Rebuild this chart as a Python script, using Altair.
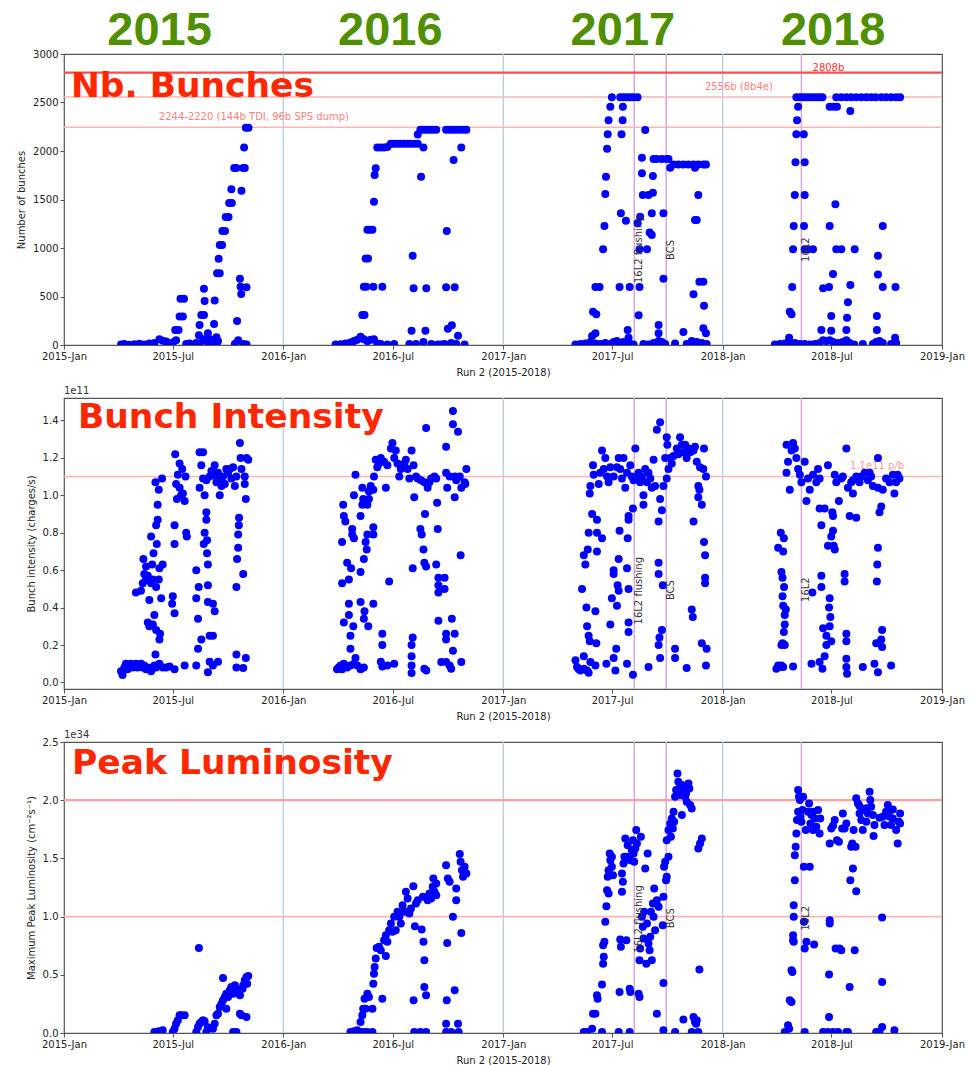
import altair as alt
import pandas as pd

# ---------------- data: (decimal year, value) ----------------
NB_2015 = [(2015.260,5),(2015.275,10),(2015.298,3),(2015.321,8),(2015.344,12),(2015.366,5),(2015.389,15),(2015.412,20),(2015.435,58),(2015.450,45),(2015.466,35),(2015.481,10),(2015.496,25),
(2015.507,155),(2015.522,155),(2015.511,50),(2015.527,295),(2015.542,295),(2015.531,478),(2015.547,478),(2015.557,10),(2015.573,15),
(2015.603,20),(2015.615,100),(2015.618,206),(2015.626,310),(2015.638,310),(2015.638,580),(2015.641,454),(2015.649,40),(2015.656,120),(2015.664,60),(2015.672,20),(2015.684,217),(2015.687,458),(2015.695,80),(2015.702,40),
(2015.698,740),(2015.710,740),(2015.705,888),(2015.710,1031),(2015.721,1031),(2015.722,1175),(2015.734,1175),(2015.737,1320),(2015.750,1320),(2015.753,1464),(2015.765,1464),(2015.763,1605),(2015.776,1825),(2015.786,1825),(2015.789,248),(2015.779,10),(2015.794,50),
(2015.802,684),(2015.805,600),(2015.808,526),(2015.809,1590),(2015.817,1825),(2015.824,1825),(2015.821,2037),(2015.829,2240),(2015.841,2240),(2015.832,595),(2015.817,10),(2015.832,5),(2015.695,10),(2015.618,10),(2015.634,60)]

NB_2016 = [(2016.237,5),(2016.260,8),(2016.282,15),(2016.305,25),(2016.321,40),(2016.336,55),(2016.351,85),(2016.366,60),(2016.382,40),(2016.397,55),(2016.412,60),(2016.427,15),(2016.443,10),(2016.473,5),(2016.504,10),
(2016.359,310),(2016.369,310),(2016.366,600),(2016.377,600),(2016.374,893),(2016.385,893),(2016.382,1187),(2016.392,1187),(2016.405,1187),(2016.409,600),(2016.412,1476),(2016.415,1753),(2016.420,1822),(2016.427,2037),(2016.443,2037),(2016.450,600),(2016.458,2037),(2016.473,2040),
(2016.489,2075),(2016.504,2075),(2016.519,2075),(2016.534,2075),(2016.550,2075),(2016.565,2075),(2016.580,2075),(2016.595,2075),(2016.611,2075),
(2016.588,921),(2016.592,584),(2016.583,148),(2016.573,10),(2016.603,10),(2016.611,2170),(2016.623,2220),(2016.634,2220),(2016.649,2220),(2016.664,2220),(2016.679,2220),(2016.695,2220),(2016.626,1735),(2016.637,2037),(2016.650,584),(2016.646,148),(2016.637,30),(2016.673,10),(2016.702,5),
(2016.740,2220),(2016.756,2220),(2016.771,2220),(2016.786,2220),(2016.802,2220),(2016.817,2220),(2016.832,2220),(2016.743,1175),(2016.740,595),(2016.779,595),(2016.774,1908),(2016.809,2037),(2016.748,168),(2016.766,203),(2016.794,96),(2016.733,10),(2016.763,20),(2016.786,10),(2016.824,5),(2016.718,5)]

NB_2017 = [(2017.329,5),(2017.352,10),(2017.374,15),(2017.397,30),(2017.420,15),(2017.442,10),(2017.465,20),(2017.488,10),(2017.503,30),(2017.518,40),(2017.533,20),(2017.548,30),(2017.564,20),(2017.579,10),(2017.594,5),
(2017.405,93),(2017.420,120),(2017.409,344),(2017.424,316),(2017.420,598),(2017.439,598),(2017.455,986),(2017.461,1227),(2017.465,1556),(2017.468,1735),(2017.473,2024),(2017.476,2172),(2017.480,2316),(2017.488,2457),(2017.495,2553),
(2017.530,598),(2017.536,1357),(2017.539,2172),(2017.544,2316),(2017.545,2457),(2017.533,2553),(2017.548,2553),(2017.564,2553),(2017.579,2553),(2017.594,2553),(2017.612,2553),
(2017.559,1282),(2017.576,598),(2017.567,155),(2017.571,76),(2017.617,306),(2017.621,598),(2017.621,986),(2017.624,1323),(2017.612,1254),(2017.632,1770),(2017.632,1931),(2017.636,1546),(2017.647,2216),(2017.655,986),(2017.662,1546),(2017.667,1161),(2017.677,1134),(2017.677,1357),(2017.682,1742),(2017.682,1570),
(2017.685,1917),(2017.700,1917),(2017.723,1917),(2017.708,206),(2017.708,120),(2017.730,1357),(2017.730,684),(2017.745,1917),(2017.753,1917),(2017.761,1828),(2017.776,1862),(2017.798,1862),(2017.821,1862),(2017.844,1862),(2017.867,1862),(2017.889,1862),(2017.912,1862),(2017.924,1862),(2017.874,1828),
(2017.821,134),(2017.867,522),(2017.874,1288),(2017.882,1288),(2017.889,1546),(2017.894,653),(2017.912,653),(2017.915,405),(2017.912,172),(2017.924,120),
(2017.639,10),(2017.662,5),(2017.685,20),(2017.708,40),(2017.723,30),(2017.738,10),(2017.783,15),(2017.836,10),(2017.859,40),(2017.882,30),(2017.905,20),(2017.927,10)]

NB_2018 = [(2018.238,5),(2018.261,10),(2018.283,15),(2018.306,30),(2018.329,20),(2018.352,10),(2018.374,10),(2018.397,5),(2018.420,10),(2018.442,20),(2018.458,50),(2018.473,40),(2018.488,50),(2018.503,30),(2018.526,20),(2018.548,30),(2018.564,50),(2018.579,20),(2018.600,5),(2018.639,10),(2018.685,10),(2018.700,30),(2018.715,40),(2018.730,20),(2018.768,10),(2018.791,20),
(2018.303,76),(2018.306,344),(2018.314,316),(2018.317,598),(2018.321,986),(2018.324,1227),(2018.329,1546),(2018.332,1883),(2018.336,2172),(2018.339,2316),(2018.344,2457),
(2018.336,2553),(2018.352,2553),(2018.367,2553),(2018.382,2553),(2018.397,2553),(2018.412,2553),(2018.427,2553),(2018.442,2553),(2018.455,2553),
(2018.370,2172),(2018.374,1883),(2018.374,1546),(2018.371,1227),(2018.374,986),(2018.389,986),(2018.412,986),(2018.450,155),(2018.458,584),(2018.485,598),(2018.488,1227),(2018.495,299),(2018.495,148),(2018.503,732),(2018.514,1450),(2018.518,986),(2018.541,986),
(2018.488,2457),(2018.506,2457),(2018.521,2457),(2018.518,2553),(2018.541,2553),(2018.564,2553),(2018.586,2553),(2018.609,2553),(2018.632,2553),(2018.655,2553),(2018.677,2553),(2018.697,2553),(2018.582,2412),
(2018.564,155),(2018.567,282),(2018.571,440),(2018.582,618),(2018.602,986),(2018.703,299),(2018.708,728),(2018.708,921),(2018.703,155),(2018.730,1227),(2018.730,598),(2018.788,598),(2018.786,76),
(2018.723,2553),(2018.745,2553),(2018.768,2553),(2018.791,2553),(2018.809,2553)]

# bunch intensity in units of 1e11
INT_2015 = [(2015.260,.06),(2015.267,.04),(2015.275,.08),(2015.282,.10),(2015.290,.07),(2015.298,.09),(2015.305,.10),(2015.313,.08),(2015.321,.09),(2015.328,.10),(2015.336,.08),(2015.344,.09),(2015.351,.10),(2015.359,.08),(2015.366,.09),(2015.374,.07),(2015.382,.08),(2015.389,.07),(2015.397,.06),(2015.405,.08),(2015.412,.09),(2015.420,.08),(2015.427,.09),(2015.435,.10),(2015.450,.08),(2015.466,.08),
(2015.328,.48),(2015.351,.49),(2015.362,.66),(2015.374,.55),(2015.382,.32),(2015.389,.30),(2015.397,.78),(2015.402,.63),(2015.405,.55),(2015.412,.36),(2015.417,1.07),(2015.420,.84),(2015.423,.74),(2015.427,.95),(2015.427,.87),(2015.432,1.03),(2015.435,.61),(2015.438,.26),(2015.443,.45),(2015.447,1.09),(2015.450,.63),(2015.432,.55),(2015.420,.51),(2015.408,.69),(2015.417,.15),(2015.435,.23),(2015.389,.44),(2015.382,.57),(2015.397,.53),(2015.374,.62),(2015.359,.53),(2015.366,.58),(2015.405,.31),(2015.420,.28),
(2015.481,.085),(2015.504,.07),(2015.496,.46),(2015.493,.42),(2015.504,.37),(2015.504,.74),(2015.504,.84),(2015.507,1.22),(2015.511,1.06),(2015.515,.98),(2015.519,1.11),(2015.527,1.17),(2015.539,1.14),(2015.542,1.01),(2015.550,.97),(2015.554,1.10),(2015.557,.80),(2015.560,.78),(2015.534,1.00),(2015.550,.09),(2015.527,1.04),
(2015.603,.09),(2015.603,.60),(2015.603,.45),(2015.611,.34),(2015.611,.18),(2015.614,.51),(2015.618,1.04),(2015.618,1.23),(2015.626,1.16),(2015.634,1.09),(2015.634,1.23),(2015.626,.23),(2015.637,.74),(2015.641,.80),(2015.641,1.00),(2015.649,.91),(2015.649,.87),(2015.652,.69),(2015.652,.76),(2015.656,.63),(2015.656,.52),(2015.656,.43),(2015.664,.25),(2015.656,.055),(2015.664,.11),(2015.679,.42),(2015.679,.25),(2015.687,1.16),(2015.695,1.07),(2015.702,.11),(2015.710,1.00),(2015.718,1.05),(2015.679,.09),(2015.687,.38),
(2015.664,1.10),(2015.679,1.12),(2015.695,1.10),(2015.710,1.08),(2015.725,1.10),(2015.740,1.14),(2015.756,1.14),(2015.771,1.15),(2015.779,1.05),(2015.786,1.10),(2015.649,1.08),(2015.672,1.13),(2015.702,1.12),(2015.733,1.06),(2015.748,1.12),(2015.763,1.09),
(2015.786,.51),(2015.789,.66),(2015.794,.72),(2015.794,.79),(2015.797,.84),(2015.798,.88),(2015.802,1.28),(2015.805,1.20),(2015.809,1.14),(2015.817,.58),(2015.824,1.10),(2015.824,1.06),(2015.829,.98),(2015.832,1.20),(2015.840,1.19),(2015.786,.08),(2015.817,.077),(2015.786,.15),(2015.829,.13)]

INT_2016 = [(2016.244,.07),(2016.252,.08),(2016.260,.09),(2016.267,.07),(2016.275,.10),(2016.282,.09),(2016.290,.08),(2016.305,.09),(2016.321,.10),(2016.336,.09),(2016.351,.07),
(2016.267,.75),(2016.272,.95),(2016.275,.89),(2016.282,.86),(2016.267,.53),(2016.275,.32),(2016.290,.64),(2016.298,.55),(2016.298,.42),(2016.298,.36),(2016.305,.25),(2016.305,.18),(2016.308,.61),(2016.313,.79),(2016.313,.82),(2016.321,.77),(2016.328,1.11),(2016.321,1.00),(2016.328,.13),(2016.318,.30),
(2016.351,.59),(2016.351,.89),(2016.351,.43),(2016.359,.95),(2016.359,1.04),(2016.363,.98),(2016.366,.66),(2016.366,.34),(2016.369,.38),(2016.374,.75),(2016.379,.71),(2016.382,.95),(2016.382,.79),(2016.386,.30),(2016.389,.98),(2016.366,.08),
(2016.409,.42),(2016.409,.79),(2016.409,.83),(2016.409,1.03),(2016.412,1.10),(2016.420,1.19),(2016.427,1.15),(2016.443,1.20),(2016.450,.26),(2016.450,.20),(2016.443,.11),(2016.450,.085),(2016.466,1.04),(2016.473,.09),(2016.481,.54),(2016.489,1.25),(2016.496,1.28),(2016.504,1.20),(2016.511,1.24),(2016.519,1.17),(2016.527,1.10),(2016.504,.10),(2016.458,1.18),(2016.473,1.16),(2016.435,1.17),(2016.397,1.05),(2016.389,1.02),
(2016.534,1.14),(2016.550,1.17),(2016.565,1.14),(2016.573,1.09),(2016.583,1.24),(2016.592,1.16),(2016.595,.99),(2016.588,.61),(2016.583,.20),(2016.583,.14),(2016.588,.24),(2016.583,.09),(2016.583,.05),(2016.611,1.09),(2016.623,.82),(2016.629,.79),(2016.637,.71),(2016.641,.64),(2016.644,.90),(2016.649,1.36),(2016.649,.62),(2016.641,.073),(2016.650,.064),(2016.641,1.07),(2016.656,1.04),(2016.672,1.09),(2016.687,1.10),(2016.695,1.09),(2016.695,.63),(2016.699,.96),(2016.702,.82),(2016.705,.56),(2016.705,.52),(2016.705,.48),(2016.705,.33),(2016.718,.109),
(2016.740,1.26),(2016.740,1.12),(2016.745,1.04),(2016.740,.26),(2016.740,.23),(2016.733,.56),(2016.733,.50),(2016.740,.109),(2016.756,.091),(2016.763,.073),(2016.766,.34),(2016.771,1.45),(2016.771,1.38),(2016.779,1.10),(2016.779,.99),(2016.779,.26),(2016.771,.17),(2016.794,1.34),(2016.802,1.10),(2016.809,1.04),(2016.806,.68),(2016.809,.109),(2016.824,1.07),(2016.832,1.14),(2016.827,1.06),(2016.557,1.19),(2016.603,1.10),(2016.626,1.08),(2016.664,1.07),(2016.756,1.10),(2016.786,1.08)]

INT_2017 = [(2017.329,.118),(2017.336,.082),(2017.352,.064),(2017.367,.073),(2017.382,.064),(2017.389,.052),(2017.397,.109),(2017.420,.091),(2017.367,.14),(2017.344,.07),
(2017.359,.50),(2017.367,.68),(2017.374,.63),(2017.379,.40),(2017.382,.30),(2017.385,.71),(2017.389,.80),(2017.389,.25),(2017.394,.22),(2017.394,1.01),(2017.397,1.05),(2017.405,.90),(2017.409,1.16),(2017.412,1.11),(2017.420,.38),(2017.424,.21),(2017.427,.70),(2017.427,.80),(2017.427,.87),(2017.435,1.06),(2017.450,1.24),(2017.450,.77),(2017.458,1.14),(2017.465,1.20),(2017.470,.10),(2017.473,1.10),(2017.480,1.07),(2017.488,.31),(2017.495,.45),(2017.503,.60),(2017.503,.58),(2017.503,.13),(2017.511,.064),(2017.515,.18),(2017.518,.41),(2017.521,.52),(2017.526,.66),(2017.526,.49),(2017.530,.81),(2017.526,1.20),(2017.533,1.14),(2017.541,1.09),(2017.548,1.20),(2017.556,1.04),(2017.564,.61),(2017.567,.77),(2017.571,.87),(2017.571,.50),(2017.571,.32),(2017.571,.27),(2017.564,.10),(2017.571,.89),(2017.579,1.16),(2017.586,1.10),(2017.591,.93),(2017.591,.041),(2017.602,1.25),(2017.609,1.09),(2017.617,1.12),(2017.624,1.07),(2017.639,1.00),(2017.639,.95),(2017.647,1.14),(2017.655,1.07),(2017.662,.082),(2017.670,1.09),(2017.677,1.04),(2017.685,1.19),(2017.692,1.05),(2017.700,1.35),(2017.708,.86),(2017.708,.20),(2017.712,.24),(2017.708,.64),(2017.715,1.39),(2017.715,.98),(2017.715,.13),(2017.708,.58),(2017.723,.92),(2017.723,.28),(2017.727,.52),(2017.730,1.05),(2017.738,1.20),(2017.745,1.31),(2017.748,1.27),(2017.745,1.09),(2017.753,1.14),(2017.761,1.20),(2017.776,1.21),(2017.783,.18),(2017.783,.13),(2017.791,1.25),(2017.806,1.31),(2017.814,1.27),(2017.821,1.23),(2017.829,1.27),(2017.836,.077),(2017.844,1.25),(2017.852,1.23),(2017.859,.39),(2017.864,.35),(2017.867,.86),(2017.874,1.26),(2017.882,1.18),(2017.889,1.05),(2017.889,.99),(2017.894,1.03),(2017.905,.95),(2017.905,.21),(2017.912,1.14),(2017.915,1.25),(2017.915,.75),(2017.920,.68),(2017.920,.56),(2017.920,.53),(2017.924,.091),(2017.927,.18),(2017.924,1.10),
(2017.442,1.12),(2017.488,1.15),(2017.503,1.10),(2017.518,1.15),(2017.564,1.12),(2017.594,1.08),(2017.632,1.10),(2017.662,1.12),(2017.768,1.17),(2017.798,1.22),(2017.836,1.20),(2017.867,1.24),(2017.897,1.15)]

INT_2018 = [(2018.245,.073),(2018.253,.091),(2018.261,.082),(2018.268,.091),(2018.276,.082),(2018.321,.085),(2018.253,.72),(2018.265,.80),(2018.268,.59),(2018.273,.56),(2018.276,.70),(2018.279,.77),(2018.280,.51),(2018.273,.46),(2018.276,.41),(2018.283,.36),(2018.283,.31),(2018.279,.27),(2018.273,.21),(2018.283,.20),(2018.268,.20),(2018.288,.39),
(2018.291,1.27),(2018.298,1.18),(2018.291,1.12),(2018.306,1.03),(2018.314,1.24),(2018.321,1.28),(2018.329,1.25),(2018.336,1.20),(2018.344,1.14),(2018.352,1.11),(2018.359,1.07),(2018.374,1.18),(2018.382,.97),(2018.389,1.09),(2018.397,1.03),(2018.405,.10),(2018.409,.48),(2018.412,1.11),(2018.427,1.07),(2018.435,1.14),(2018.442,1.09),(2018.442,.93),(2018.450,.84),(2018.450,.57),(2018.450,.51),(2018.442,.109),(2018.455,.073),(2018.458,.29),(2018.465,.93),(2018.465,.14),(2018.473,.25),(2018.473,.20),(2018.480,1.16),(2018.480,.73),(2018.485,.40),(2018.488,.45),(2018.491,.35),(2018.495,.78),(2018.500,.91),(2018.503,.89),(2018.503,.81),(2018.506,.73),(2018.511,.71),(2018.488,.30),(2018.495,.22),(2018.511,1.11),(2018.518,1.07),(2018.530,.97),(2018.541,1.09),(2018.556,.58),(2018.556,.54),(2018.564,1.25),(2018.564,.26),(2018.564,.22),(2018.564,.127),(2018.564,.082),(2018.567,.046),(2018.571,1.04),(2018.579,.89),(2018.586,1.07),(2018.594,1.01),(2018.609,.88),(2018.609,1.10),(2018.624,1.07),(2018.639,.082),(2018.648,1.12),(2018.662,1.08),(2018.677,1.10),(2018.692,.10),(2018.700,.21),(2018.703,.54),(2018.705,.63),(2018.708,.72),(2018.708,1.20),(2018.708,1.04),(2018.715,.91),(2018.723,.94),(2018.723,.23),(2018.727,.19),(2018.727,.28),(2018.708,.055),(2018.730,1.03),(2018.745,1.09),(2018.761,1.07),(2018.768,.091),(2018.776,1.11),(2018.783,1.01),(2018.791,1.07),(2018.798,1.11),(2018.806,1.09),
(2018.548,1.10),(2018.594,1.08),(2018.632,1.10),(2018.670,1.12),(2018.685,1.05)]

# peak luminosity in units of 1e34
LUM_2015 = [(2015.412,.009),(2015.432,.014),(2015.450,.023),(2015.496,.009),(2015.504,.037),(2015.511,.080),(2015.519,.109),(2015.527,.152),(2015.534,.152),(2015.550,.152),(2015.603,.009),(2015.611,.052),(2015.615,.731),(2015.618,.080),(2015.626,.095),(2015.634,.109),(2015.641,.100),(2015.649,.009),(2015.679,.037),(2015.687,.080),(2015.695,.152),(2015.702,.166),(2015.710,.224),(2015.718,.252),(2015.725,.473),(2015.725,.281),(2015.733,.310),(2015.740,.209),(2015.740,.338),(2015.748,.310),(2015.756,.367),(2015.763,.396),(2015.771,.338),(2015.779,.410),(2015.786,.009),(2015.794,.367),(2015.802,.324),(2015.802,.166),(2015.809,.152),(2015.814,.381),(2015.817,.410),(2015.824,.453),(2015.832,.138),(2015.832,.482),(2015.840,.490),(2015.835,.424),(2015.656,.05),(2015.771,.009)]

LUM_2016 = [(2016.305,.009),(2016.321,.014),(2016.336,.023),(2016.351,.009),(2016.366,.009),(2016.382,.009),(2016.405,.009),(2016.351,.095),(2016.359,.152),(2016.363,.209),(2016.369,.295),(2016.374,.209),(2016.382,.338),(2016.389,.310),(2016.405,.209),(2016.409,.424),(2016.412,.510),(2016.415,.568),(2016.420,.639),(2016.424,.731),(2016.435,.740),(2016.443,.711),(2016.450,.295),(2016.458,.797),(2016.466,.662),(2016.466,.840),(2016.473,.783),(2016.481,.883),(2016.489,.940),(2016.496,.869),(2016.504,.998),(2016.511,.883),(2016.519,1.041),(2016.527,.998),(2016.534,.940),(2016.542,1.098),(2016.550,1.041),(2016.557,1.213),(2016.565,1.155),(2016.573,1.026),(2016.580,1.069),(2016.591,1.261),(2016.592,.281),(2016.595,.009),(2016.598,.917),(2016.603,1.112),(2016.611,1.141),(2016.623,.009),(2016.629,.889),(2016.634,1.170),(2016.637,.783),(2016.641,.625),(2016.641,.396),(2016.649,.324),(2016.649,.009),(2016.656,1.141),(2016.664,1.198),(2016.672,1.155),(2016.679,1.256),(2016.682,1.327),(2016.687,1.213),(2016.695,1.184),(2016.695,1.284),(2016.740,1.442),(2016.745,.774),(2016.743,.281),(2016.740,.080),(2016.740,.009),(2016.748,1.327),(2016.756,1.299),(2016.771,.998),(2016.779,.367),(2016.786,1.241),(2016.786,1.141),(2016.794,.080),(2016.802,1.537),(2016.806,1.471),(2016.809,.860),(2016.812,1.399),(2016.817,1.342),(2016.824,1.428),(2016.832,1.370),(2016.763,.009),(2016.797,.009)]

LUM_2017 = [(2017.367,.009),(2017.382,.009),(2017.405,.037),(2017.409,.166),(2017.420,.166),(2017.427,.324),(2017.430,.295),(2017.450,.416),(2017.450,.009),(2017.455,.596),(2017.458,.654),(2017.455,.754),(2017.461,.783),(2017.465,.955),(2017.470,1.089),(2017.473,1.227),(2017.480,1.198),(2017.476,1.342),(2017.480,1.399),(2017.485,1.542),(2017.488,1.485),(2017.495,1.514),(2017.495,1.428),(2017.500,1.356),(2017.526,.009),(2017.530,.353),(2017.533,.803),(2017.536,.740),(2017.541,1.213),(2017.541,1.370),(2017.545,1.299),(2017.548,1.456),(2017.552,1.514),(2017.556,1.671),(2017.561,.797),(2017.564,1.514),(2017.567,1.614),(2017.576,.381),(2017.579,.353),(2017.576,.009),(2017.579,1.485),(2017.586,1.571),(2017.591,1.657),(2017.594,1.542),(2017.597,1.471),(2017.602,1.585),(2017.606,1.743),(2017.609,1.628),(2017.617,.338),(2017.621,.625),(2017.621,.310),(2017.624,.725),(2017.627,1.686),(2017.632,.998),(2017.636,.912),(2017.639,.811),(2017.642,1.041),(2017.647,1.413),(2017.652,.596),(2017.655,.940),(2017.658,1.542),(2017.662,.768),(2017.667,.711),(2017.670,.826),(2017.673,1.041),(2017.677,.625),(2017.682,1.112),(2017.685,.998),(2017.688,1.241),(2017.692,.883),(2017.700,.166),(2017.700,1.141),(2017.708,1.084),(2017.727,.926),(2017.730,.430),(2017.730,.023),(2017.730,1.170),(2017.733,1.428),(2017.738,1.471),(2017.742,1.313),(2017.745,1.342),(2017.745,1.657),(2017.753,1.514),(2017.753,1.743),(2017.761,1.800),(2017.764,1.686),(2017.768,1.843),(2017.773,1.757),(2017.776,1.901),(2017.779,1.815),(2017.783,.009),(2017.783,2.030),(2017.788,2.087),(2017.794,2.230),(2017.798,2.159),(2017.803,2.101),(2017.806,2.044),(2017.814,1.872),(2017.814,2.130),(2017.821,2.087),(2017.821,.115),(2017.829,2.030),(2017.833,2.058),(2017.836,1.987),(2017.844,2.144),(2017.848,2.101),(2017.852,1.958),(2017.859,1.929),(2017.867,.138),(2017.874,.095),(2017.879,.080),(2017.882,.109),(2017.859,.009),(2017.889,1.585),(2017.897,1.628),(2017.905,1.671),(2017.894,.545),(2017.889,.009)]

LUM_2018 = [(2018.283,.009),(2018.298,.066),(2018.303,.037),(2018.306,.281),(2018.314,.267),(2018.314,.539),(2018.318,.525),(2018.321,.840),(2018.321,.797),(2018.324,.783),(2018.324,.998),(2018.324,1.098),(2018.329,1.313),(2018.329,1.528),(2018.333,1.600),(2018.336,1.714),(2018.339,1.829),(2018.344,1.901),(2018.344,2.087),(2018.348,2.030),(2018.352,2.001),(2018.355,1.858),(2018.359,1.815),(2018.364,1.915),(2018.367,2.030),(2018.370,1.428),(2018.371,.955),(2018.374,.725),(2018.374,.009),(2018.379,1.743),(2018.382,.783),(2018.389,1.901),(2018.394,1.972),(2018.397,1.428),(2018.400,1.800),(2018.405,1.872),(2018.412,1.743),(2018.417,.760),(2018.420,1.843),(2018.427,1.772),(2018.435,1.915),(2018.442,1.714),(2018.445,1.843),(2018.458,.009),(2018.480,.009),(2018.485,.138),(2018.485,.502),(2018.488,.969),(2018.488,.940),(2018.488,1.628),(2018.495,1.757),(2018.503,.009),(2018.511,1.829),(2018.515,.725),(2018.521,1.657),(2018.526,.009),(2018.530,1.643),(2018.533,.725),(2018.541,.711),(2018.545,1.757),(2018.548,1.886),(2018.556,1.757),(2018.564,.009),(2018.571,.009),(2018.579,.396),(2018.582,1.313),(2018.586,1.600),(2018.591,1.628),(2018.594,1.413),(2018.597,1.743),(2018.602,.711),(2018.606,1.600),(2018.609,1.218),(2018.609,2.016),(2018.617,1.972),(2018.624,1.886),(2018.632,1.829),(2018.639,1.743),(2018.648,1.915),(2018.655,1.815),(2018.662,1.886),(2018.670,2.073),(2018.673,2.001),(2018.677,1.944),(2018.685,1.872),(2018.688,1.692),(2018.692,1.786),(2018.700,.009),(2018.715,.009),(2018.727,.439),(2018.727,.992),(2018.727,.052),(2018.730,1.858),(2018.738,1.786),(2018.745,1.901),(2018.753,1.958),(2018.761,1.858),(2018.768,1.786),(2018.776,1.843),(2018.783,.023),(2018.791,1.743),(2018.798,1.628),(2018.803,1.815),(2018.809,1.886),
(2018.412,1.90),(2018.503,1.78),(2018.564,1.80),(2018.624,1.95),(2018.655,1.93),(2018.715,1.85),(2018.776,1.92),(2018.809,1.80)]

YEAR_BOUNDS = ["2016-01-01T00:00:00", "2017-01-01T00:00:00", "2018-01-01T00:00:00"]
EVENT_DATES = ["2017-08-07T00:00:00", "2017-09-29T00:00:00", "2018-05-12T00:00:00"]
EVENT_NAMES = ["16L2 flushing", "BCS", "16L2"]
YEAR_LABELS = ["2015", "2016", "2017", "2018"]
YEAR_LABEL_DATES = ["2015-06-09T00:00:00", "2016-06-27T00:00:00", "2017-07-19T00:00:00", "2018-07-04T00:00:00"]

NB_TICKS = [0, 500, 1000, 1500, 2000, 2500, 3000]
INT_TICKS = [0.0, 0.2, 0.4, 0.6, 0.8, 1.0, 1.2, 1.4]
LUM_TICKS = [0.0, 0.5, 1.0, 1.5, 2.0, 2.5]

X_TICKS = [alt.DateTime(year=y, month=m, date=1) for y in range(2015, 2019) for m in (1, 7)] + [alt.DateTime(year=2019, month=1, date=1)]

W, H = 878, 291
FONT = "DejaVu Sans"


def dec_to_iso(t):
    y = int(t)
    start = pd.Timestamp(year=y, month=1, day=1)
    end = pd.Timestamp(year=y + 1, month=1, day=1)
    return (start + (t - y) * (end - start)).strftime("%Y-%m-%dT%H:%M:%S")


def frame(*groups):
    rows = [p for g in groups for p in g]
    return pd.DataFrame({"date": [dec_to_iso(t) for t, _ in rows], "value": [v for _, v in rows]})


def xenc():
    return alt.X("date:T",
                 scale=alt.Scale(domain=[alt.DateTime(year=2015, month=1, date=1),
                                         alt.DateTime(year=2019, month=1, date=1)], nice=False),
                 axis=alt.Axis(values=X_TICKS, format="%Y-%b", title="Run 2 (2015-2018)"))


def panel(points, domain, ticks, fmt, ytitle, hlines, hlabels, ev_bottom, title, title_xy, offset_text=None, extra=None):
    yenc = alt.Y("value:Q", scale=alt.Scale(domain=domain, nice=False, zero=False),
                 axis=alt.Axis(values=ticks, format=fmt, title=ytitle))
    layers = []
    layers.append(alt.Chart(pd.DataFrame({"date": YEAR_BOUNDS})).mark_rule(color="#b3cfe6", strokeWidth=1.3).encode(x=xenc()))
    layers.append(alt.Chart(pd.DataFrame({"date": EVENT_DATES})).mark_rule(color="#d6a8dc", strokeWidth=1.5).encode(x=xenc()))
    for val, col, sw in hlines:
        layers.append(alt.Chart(pd.DataFrame({"value": [val]})).mark_rule(color=col, strokeWidth=sw).encode(y=yenc))
    for txt, d, val, col in hlabels:
        layers.append(alt.Chart(pd.DataFrame({"date": [d], "value": [val], "label": [txt]}))
                      .mark_text(font=FONT, fontSize=10, color=col, align="center", baseline="middle")
                      .encode(x=xenc(), y=yenc, text="label:N"))
    layers.append(alt.Chart(points).mark_circle(size=64, color="#0000ff", opacity=1, clip=True)
                  .encode(x=xenc(), y=yenc))
    layers.append(alt.Chart(pd.DataFrame({"date": EVENT_DATES, "value": ev_bottom, "label": EVENT_NAMES}))
                  .mark_text(font=FONT, fontSize=10, color="#333333", angle=270, align="left", baseline="top")
                  .encode(x=xenc(), y=yenc, text="label:N"))
    layers.append(alt.Chart(pd.DataFrame({"label": [title]}))
                  .mark_text(font=FONT, fontSize=34.5, fontWeight="bold", color="#ff2600", align="left", baseline="alphabetic")
                  .encode(x=alt.value(title_xy[0]), y=alt.value(title_xy[1]), text="label:N"))
    if offset_text:
        layers.append(alt.Chart(pd.DataFrame({"label": [offset_text]}))
                      .mark_text(font=FONT, fontSize=10, color="#333333", align="left", baseline="bottom")
                      .encode(x=alt.value(0), y=alt.value(-2), text="label:N"))
    if extra is not None:
        layers.extend(extra)
    return alt.layer(*layers).properties(width=W, height=H)


year_text = (alt.Chart(pd.DataFrame({"date": YEAR_LABEL_DATES, "label": YEAR_LABELS}))
             .mark_text(font="Liberation Sans", fontSize=47, fontWeight="bold", color="#4f8f00", align="center", baseline="alphabetic")
             .encode(x=xenc(), y=alt.value(-9), text="label:N"))

p1 = panel(frame(NB_2015, NB_2016, NB_2017, NB_2018), [0, 3000], NB_TICKS, "d", "Number of bunches",
           [(2808, "#ff4d4d", 2.2), (2556, "#ffb3b3", 1.5), (2244, "#ffb3b3", 1.5)],
           [("2244-2220 (144b TDI, 96b SPS dump)", "2015-11-13T00:00:00", 2350, "#ff8080"),
            ("2556b (8b4e)", "2018-01-28T00:00:00", 2660, "#ff8080"),
            ("2808b", "2018-06-26T00:00:00", 2852, "#ff3030")],
           [639, 876, 856], "Nb. Bunches", (7, 43), extra=[year_text])

p2 = panel(frame(INT_2015, INT_2016, INT_2017, INT_2018), [-0.035, 1.52], INT_TICKS, ".1f", "Bunch intensity (charges/s)",
           [(1.1, "#ffb3b3", 1.5)],
           [("1.1e11 p/b", "2018-09-15T00:00:00", 1.155, "#ff9999")],
           [0.31, 0.44, 0.43], "Bunch Intensity", (14, 30), offset_text="1e11")

p3 = panel(frame(LUM_2015, LUM_2016, LUM_2017, LUM_2018), [0, 2.5], LUM_TICKS, ".1f", "Maximum Peak Luminosity (cm\u207b\u00b2s\u207b\u00b9)",
           [(2.0, "#ff9f9f", 2.2), (1.0, "#ffb3b3", 1.8)],
           [],
           [0.69, 0.90, 0.88], "Peak Luminosity", (8, 32), offset_text="1e34")

chart = (alt.vconcat(p1, p2, p3, spacing=53, bounds="flush")
         .properties(padding={"left": 15, "top": 6, "right": 0, "bottom": 0}, background="white")
         .configure_view(stroke="#555555", strokeWidth=1.2)
         .configure_axis(grid=False, domain=False, tickColor="#555555", tickSize=4, tickWidth=1, labelFlush=False,
                         labelFont=FONT, labelFontSize=10, labelColor="#222222", labelPadding=2,
                         titleFont=FONT, titleFontSize=10, titleFontWeight="normal", titleColor="#222222", titlePadding=6))

chart.save("out.html", embed_options={"renderer": "svg", "actions": False})
